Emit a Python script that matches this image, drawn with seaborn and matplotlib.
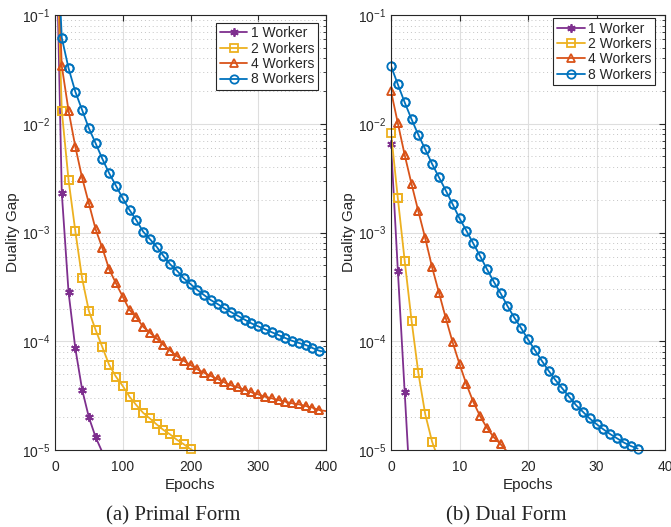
import matplotlib
matplotlib.use("Agg")
import matplotlib.pyplot as plt
import pandas as pd
import seaborn as sns
from matplotlib.ticker import LogLocator, NullFormatter

sns.set_style("white")
plt.rcParams['font.family'] = ['Liberation Sans', 'DejaVu Sans']

labels = ['1 Worker', '2 Workers', '4 Workers', '8 Workers']
colors = ['#7E2F8E', '#EDB120', '#D95319', '#0072BD']
markers = [(6, 2, 0), 's', '^', 'o']

# ---- primal form (markers every 10 epochs) ----
primal_w1_epochs = [10, 20, 30, 40, 50, 60]
primal_w1_gap = [2.32e-3, 2.82e-4, 8.6e-5, 3.6e-5, 2.0e-5, 1.31e-5]

primal_w2_epochs = list(range(10, 210, 10))
primal_w2_gap = [1.32e-2, 3.04e-3, 1.03e-3, 3.79e-4, 1.90e-4, 1.27e-4, 8.8e-5,
                 6.05e-5, 4.72e-5, 3.88e-5, 3.09e-5, 2.59e-5, 2.20e-5, 1.95e-5,
                 1.72e-5, 1.53e-5, 1.39e-5, 1.24e-5, 1.13e-5, 1.02e-5]

primal_w4_epochs = list(range(10, 400, 10))
primal_w4_gap = [3.4e-2, 1.32e-2, 6.15e-3, 3.19e-3, 1.85e-3, 1.07e-3, 7.16e-4,
                 4.58e-4, 3.41e-4, 2.57e-4, 1.94e-4, 1.66e-4, 1.36e-4, 1.20e-4,
                 1.06e-4, 9.25e-5, 8.18e-5, 7.31e-5, 6.62e-5, 6.05e-5, 5.52e-5,
                 5.14e-5, 4.79e-5, 4.50e-5, 4.19e-5, 3.93e-5, 3.77e-5, 3.58e-5,
                 3.39e-5, 3.25e-5, 3.09e-5, 2.99e-5, 2.88e-5, 2.78e-5, 2.69e-5,
                 2.63e-5, 2.54e-5, 2.45e-5, 2.33e-5]

primal_w8_epochs = list(range(10, 400, 10))
primal_w8_gap = [6.18e-2, 3.24e-2, 1.97e-2, 1.34e-2, 9.1e-3, 6.6e-3, 4.74e-3,
                 3.5e-3, 2.69e-3, 2.06e-3, 1.61e-3, 1.30e-3, 1.02e-3, 8.7e-4,
                 7.4e-4, 6.1e-4, 5.1e-4, 4.46e-4, 3.79e-4, 3.36e-4, 2.96e-4,
                 2.66e-4, 2.39e-4, 2.20e-4, 2.01e-4, 1.85e-4, 1.71e-4, 1.58e-4,
                 1.46e-4, 1.37e-4, 1.29e-4, 1.21e-4, 1.14e-4, 1.07e-4, 1.01e-4,
                 9.65e-5, 9.25e-5, 8.67e-5, 8.18e-5]

# where each primal line enters (top) and leaves the plotted range
primal_start = [(1, 1.0), (1, 1.0), (1, 1.0), (1, 1.0)]
primal_end = [(70, 9.5e-6), (210, 9.3e-6), (400, 2.28e-5), (400, 7.95e-5)]

# ---- dual form (markers every epoch) ----
dual_w1_epochs = [0, 1, 2]
dual_w1_gap = [6.52e-3, 4.46e-4, 3.39e-5]

dual_w2_epochs = [0, 1, 2, 3, 4, 5, 6]
dual_w2_gap = [8.3e-3, 2.06e-3, 5.47e-4, 1.55e-4, 5.07e-5, 2.13e-5, 1.19e-5]

dual_w4_epochs = list(range(0, 17))
dual_w4_gap = [2.0e-2, 1.01e-2, 5.16e-3, 2.79e-3, 1.56e-3, 8.85e-4, 4.79e-4,
               2.80e-4, 1.63e-4, 9.77e-5, 6.18e-5, 4.04e-5, 2.78e-5, 2.05e-5,
               1.60e-5, 1.31e-5, 1.13e-5]

dual_w8_epochs = list(range(0, 37))
dual_w8_gap = [3.4e-2, 2.30e-2, 1.57e-2, 1.10e-2, 7.88e-3, 5.82e-3, 4.27e-3,
               3.22e-3, 2.43e-3, 1.82e-3, 1.35e-3, 1.04e-3, 7.95e-4, 6.08e-4,
               4.61e-4, 3.53e-4, 2.76e-4, 2.11e-4, 1.65e-4, 1.32e-4, 1.04e-4,
               8.31e-5, 6.63e-5, 5.36e-5, 4.40e-5, 3.69e-5, 3.09e-5, 2.59e-5,
               2.25e-5, 1.95e-5, 1.73e-5, 1.55e-5, 1.40e-5, 1.28e-5, 1.17e-5,
               1.09e-5, 1.03e-5]

dual_end = [(3, 2.6e-6), (7, 8.0e-6), (17, 9.6e-6), None]

primal = [(primal_w1_epochs, primal_w1_gap), (primal_w2_epochs, primal_w2_gap),
          (primal_w4_epochs, primal_w4_gap), (primal_w8_epochs, primal_w8_gap)]
dual = [(dual_w1_epochs, dual_w1_gap), (dual_w2_epochs, dual_w2_gap),
        (dual_w4_epochs, dual_w4_gap), (dual_w8_epochs, dual_w8_gap)]

fig = plt.figure(figsize=(6.71, 5.27), dpi=100)
ax1 = fig.add_axes([55 / 671, 1 - 450 / 527, 271 / 671, 435 / 527])
ax2 = fig.add_axes([391 / 671, 1 - 450 / 527, 274 / 671, 435 / 527])

axis_col = '#262626'


def draw(ax, ep, gap, start, end, color, marker, label):
    x, y = list(ep), list(gap)
    first = 0
    if start is not None:
        x, y = [start[0]] + x, [start[1]] + y
        first = 1
    marked = list(range(first, first + len(ep)))
    if end is not None:
        x, y = x + [end[0]], y + [end[1]]
    df = pd.DataFrame({'Epochs': x, 'Gap': y})
    style = dict(marker=marker, markersize=6, markerfacecolor='none',
                 markeredgecolor=color, markeredgewidth=1.3)
    sns.lineplot(data=df, x='Epochs', y='Gap', ax=ax, color=color,
                 markevery=marked, linewidth=1.3, label=label,
                 sort=False, estimator=None, **style)
    # markers are not clipped at the axes edge (as in the original)
    pts = pd.DataFrame({'Epochs': list(ep), 'Gap': list(gap)})
    sns.lineplot(data=pts, x='Epochs', y='Gap', ax=ax, color=color,
                 linestyle='none', clip_on=False, legend=False,
                 sort=False, estimator=None, **style)


for i in range(4):
    draw(ax1, primal[i][0], primal[i][1], primal_start[i], primal_end[i],
         colors[i], markers[i], labels[i])
    draw(ax2, dual[i][0], dual[i][1], None, dual_end[i],
         colors[i], markers[i], labels[i])

for ax, xmax, xt, anchor in [(ax1, 400, [0, 100, 200, 300, 400], (0.97, 0.982)),
                             (ax2, 40, [0, 10, 20, 30, 40], (0.964, 0.993))]:
    ax.set_yscale('log')
    ax.set_ylim(1e-5, 1e-1)
    ax.set_xlim(0, xmax)
    ax.set_xticks(xt)
    ax.yaxis.set_major_locator(LogLocator(base=10, numticks=10))
    ax.yaxis.set_minor_locator(LogLocator(base=10, subs=range(2, 10), numticks=20))
    ax.yaxis.set_minor_formatter(NullFormatter())
    ax.grid(True, which='major', color='#dedede', linewidth=0.8)
    ax.grid(True, which='minor', axis='y', color='#c4c4c4', linestyle=(0, (1, 3)),
            linewidth=0.7)
    ax.set_axisbelow(True)
    for sp in ax.spines.values():
        sp.set_color(axis_col)
        sp.set_linewidth(0.8)
    ax.tick_params(axis='both', which='both', direction='in', top=True, right=True,
                   colors=axis_col, labelsize=10)
    ax.tick_params(axis='x', pad=7)
    ax.tick_params(which='major', length=4)
    ax.tick_params(which='minor', length=2.5)
    ax.set_xlabel('Epochs', fontsize=11, color=axis_col, labelpad=3)
    ax.set_ylabel('Duality Gap', fontsize=11, color=axis_col, labelpad=1)
    leg = ax.legend(loc='upper right', bbox_to_anchor=anchor, borderaxespad=0,
                    fontsize=10, frameon=True, fancybox=False, framealpha=1,
                    edgecolor=axis_col, handlelength=2.0, handletextpad=0.25,
                    labelspacing=0.1, borderpad=0.25)
    leg.get_frame().set_linewidth(0.8)

fig.text(173 / 671, 1 - 516 / 527, '(a) Primal Form', ha='center', va='center',
         fontsize=15, family=['Liberation Serif', 'DejaVu Serif'])
fig.text(506 / 671, 1 - 516 / 527, '(b) Dual Form', ha='center', va='center',
         fontsize=15, family=['Liberation Serif', 'DejaVu Serif'])

fig.savefig('out.png', dpi=100)
